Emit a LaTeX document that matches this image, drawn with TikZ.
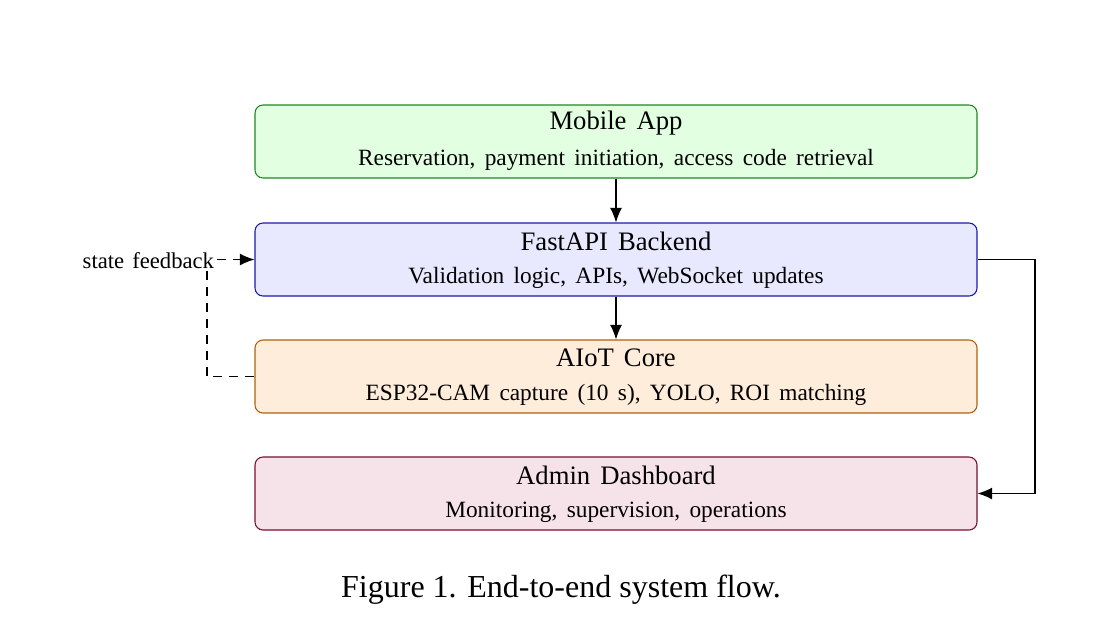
\documentclass[tikz,border=0pt]{standalone}
\usepackage{fontspec}
\setmainfont{Liberation Serif}
\usetikzlibrary{arrows.meta}
\definecolor{gfill}{HTML}{E2FFE2}\definecolor{gdraw}{HTML}{1A8A1A}
\definecolor{bfill}{HTML}{E8E8FF}\definecolor{bdraw}{HTML}{1A1AAA}
\definecolor{ofill}{HTML}{FFEDDB}\definecolor{odraw}{HTML}{B0600A}
\definecolor{pfill}{HTML}{F6E3EA}\definecolor{pdraw}{HTML}{7A1030}
\newcommand\myttlfont{\fontsize{20}{23}\selectfont\spaceskip=7.5pt plus 0pt\relax}
\newcommand\mysubfont{\fontsize{17.5}{20}\selectfont\spaceskip=7pt plus 0pt\relax}
\newcommand\mylblfont{\fontsize{17}{20}\selectfont\spaceskip=6pt plus 0pt\relax}
\begin{document}
\begin{tikzpicture}[x=0.75pt,y=-0.75pt,
  box/.style={draw,rounded corners=6pt,line width=0.8pt,minimum width=541.5pt,minimum height=54.75pt,inner sep=0pt},
  ttl/.style={font=\myttlfont},
  sub/.style={font=\mysubfont},
  arr/.style={-{Latex[length=11pt,width=9pt]},line width=0.9pt}]
\useasboundingbox (0,0) rectangle (1120,640);
\node[box,fill=gfill,draw=gdraw] (m) at (616,141.5) {};
\node[box,fill=bfill,draw=bdraw] (f) at (616,259.5) {};
\node[box,fill=ofill,draw=odraw] (a) at (616,376.5) {};
\node[box,fill=pfill,draw=pdraw] (d) at (616,493.5) {};
\node[ttl] (mt) at (616,123) {Mobile App};
\node[sub] (ms) at (616,160) {Reservation, payment initiation, access code retrieval};
\node[ttl] (ft) at (616,241) {FastAPI Backend};
\node[sub] (fs) at (616,278) {Validation logic, APIs, WebSocket updates};
\node[ttl] (at) at (616,358) {AIoT Core};
\node[sub] (as) at (616,395) {ESP32-CAM capture (10 s), YOLO, ROI matching};
\node[ttl] (dt) at (616,475) {Admin Dashboard};
\node[sub] (ds) at (616,512) {Monitoring, supervision, operations};
\draw[arr] (m) -- (f);
\draw[arr] (f) -- (a);
\coordinate (r1) at (1035,259.5);
\coordinate (r2) at (1035,493.5);
\draw[arr] (f.east) -- (r1) -- (r2) -- (d.east);
\node[font=\mylblfont,anchor=east,inner sep=2pt] (sf) at (217,260.5) {state feedback};
\coordinate (l1) at (207,376.5);
\coordinate (l2) at (207,270);
\draw[line width=0.9pt,dash pattern=on 7pt off 5pt] (a.west) -- (l1) -- (l2);
\draw[arr,dash pattern=on 7pt off 5pt] (sf.east |- f.west) -- (f.west);
\node[font=\fontsize{24}{28}\selectfont] (cap) at (561,590) {Figure 1. End-to-end system flow.};
\end{tikzpicture}
\end{document}
